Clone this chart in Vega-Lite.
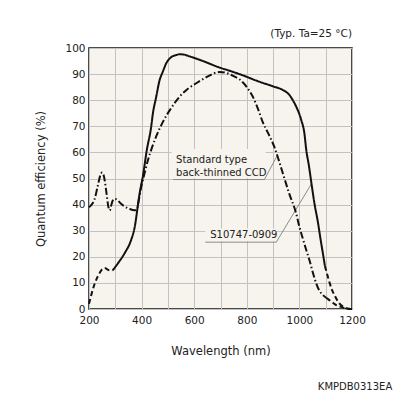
{
  "$schema": "https://vega.github.io/schema/vega-lite/v6.json",
  "width": 263,
  "height": 261,
  "autosize": "none",
  "padding": {"left": 89, "top": 48, "right": 44, "bottom": 87},
  "background": "white",
  "config": {
    "font": "DejaVu Sans",
    "view": {"fill": "#f6f4ed", "stroke": "#111111", "strokeWidth": 1.5},
    "axis": {
      "ticks": false,
      "domain": false,
      "grid": true,
      "gridColor": "#c2c2c2",
      "gridWidth": 1,
      "gridOpacity": 1,
      "labelColor": "#222222",
      "labelFont": "DejaVu Sans",
      "labelFontSize": 10.5,
      "labelOverlap": false,
      "labelFlush": false,
      "titleColor": "#222222",
      "titleFont": "DejaVu Sans",
      "titleFontSize": 11.5,
      "titleFontWeight": "normal"
    }
  },
  "title": {
    "text": "(Typ. Ta=25 °C)",
    "anchor": "end",
    "frame": "group",
    "fontSize": 10.5,
    "fontWeight": "normal",
    "font": "DejaVu Sans",
    "color": "#222222",
    "offset": 4
  },
  "datasets": {
    "curves": [
      {"seg": "S_a", "style": "dash", "wl": 200, "qe": 2},
      {"seg": "S_a", "style": "dash", "wl": 214, "qe": 7.3},
      {"seg": "S_a", "style": "dash", "wl": 227, "qe": 11.1},
      {"seg": "S_a", "style": "dash", "wl": 240, "qe": 13.7},
      {"seg": "S_a", "style": "dash", "wl": 252, "qe": 15.4},
      {"seg": "S_a", "style": "dash", "wl": 262, "qe": 15.6},
      {"seg": "S_a", "style": "dash", "wl": 275, "qe": 14.9},
      {"seg": "S_a", "style": "dash", "wl": 290, "qe": 14.8},
      {"seg": "S_b", "style": "solid", "wl": 290, "qe": 14.8},
      {"seg": "S_b", "style": "solid", "wl": 310, "qe": 17.5},
      {"seg": "S_b", "style": "solid", "wl": 335, "qe": 21.3},
      {"seg": "S_b", "style": "solid", "wl": 360, "qe": 26.4},
      {"seg": "S_b", "style": "solid", "wl": 373, "qe": 31},
      {"seg": "S_b", "style": "solid", "wl": 392, "qe": 44},
      {"seg": "S_b", "style": "solid", "wl": 405, "qe": 51},
      {"seg": "S_b", "style": "solid", "wl": 420, "qe": 61},
      {"seg": "S_b", "style": "solid", "wl": 436, "qe": 69.5},
      {"seg": "S_b", "style": "solid", "wl": 443, "qe": 75},
      {"seg": "S_b", "style": "solid", "wl": 455, "qe": 81},
      {"seg": "S_b", "style": "solid", "wl": 468, "qe": 87.5},
      {"seg": "S_b", "style": "solid", "wl": 481, "qe": 91},
      {"seg": "S_b", "style": "solid", "wl": 493, "qe": 94},
      {"seg": "S_b", "style": "solid", "wl": 510, "qe": 96.3},
      {"seg": "S_b", "style": "solid", "wl": 532, "qe": 97.3},
      {"seg": "S_b", "style": "solid", "wl": 544, "qe": 97.6},
      {"seg": "S_b", "style": "solid", "wl": 560, "qe": 97.5},
      {"seg": "S_b", "style": "solid", "wl": 582, "qe": 96.8},
      {"seg": "S_b", "style": "solid", "wl": 620, "qe": 95.5},
      {"seg": "S_b", "style": "solid", "wl": 697, "qe": 92.5},
      {"seg": "S_b", "style": "solid", "wl": 734, "qe": 91.3},
      {"seg": "S_b", "style": "solid", "wl": 772, "qe": 90},
      {"seg": "S_b", "style": "solid", "wl": 850, "qe": 87},
      {"seg": "S_b", "style": "solid", "wl": 900, "qe": 85.3},
      {"seg": "S_b", "style": "solid", "wl": 937, "qe": 83.9},
      {"seg": "S_b", "style": "solid", "wl": 962, "qe": 82},
      {"seg": "S_b", "style": "solid", "wl": 975, "qe": 80},
      {"seg": "S_b", "style": "solid", "wl": 988, "qe": 77.5},
      {"seg": "S_b", "style": "solid", "wl": 1007, "qe": 72.4},
      {"seg": "S_b", "style": "solid", "wl": 1019, "qe": 67.3},
      {"seg": "S_b", "style": "solid", "wl": 1026, "qe": 61},
      {"seg": "S_b", "style": "solid", "wl": 1036, "qe": 55},
      {"seg": "S_b", "style": "solid", "wl": 1046, "qe": 48},
      {"seg": "S_b", "style": "solid", "wl": 1058, "qe": 40},
      {"seg": "S_b", "style": "solid", "wl": 1070, "qe": 33.5},
      {"seg": "S_b", "style": "solid", "wl": 1080, "qe": 27},
      {"seg": "S_b", "style": "solid", "wl": 1089, "qe": 21.5},
      {"seg": "S_b", "style": "solid", "wl": 1097, "qe": 16.5},
      {"seg": "S_c", "style": "dash", "wl": 1097, "qe": 16.5},
      {"seg": "S_c", "style": "dash", "wl": 1105, "qe": 13.5},
      {"seg": "S_c", "style": "dash", "wl": 1115, "qe": 10},
      {"seg": "S_c", "style": "dash", "wl": 1125, "qe": 7},
      {"seg": "S_c", "style": "dash", "wl": 1133, "qe": 5.4},
      {"seg": "S_c", "style": "dash", "wl": 1143, "qe": 3.5},
      {"seg": "S_c", "style": "dash", "wl": 1152, "qe": 2.2},
      {"seg": "S_c", "style": "dash", "wl": 1165, "qe": 1},
      {"seg": "S_c", "style": "dash", "wl": 1178, "qe": 0.3},
      {"seg": "S_c", "style": "dash", "wl": 1200, "qe": 0},
      {"seg": "D_a", "style": "dashdot", "wl": 200, "qe": 39},
      {"seg": "D_a", "style": "dashdot", "wl": 210, "qe": 40},
      {"seg": "D_a", "style": "dashdot", "wl": 221, "qe": 42},
      {"seg": "D_a", "style": "dashdot", "wl": 233, "qe": 47},
      {"seg": "D_a", "style": "dashdot", "wl": 244, "qe": 51.5},
      {"seg": "D_a", "style": "dashdot", "wl": 250, "qe": 52.3},
      {"seg": "D_a", "style": "dashdot", "wl": 255, "qe": 51.5},
      {"seg": "D_a", "style": "dashdot", "wl": 261, "qe": 48.5},
      {"seg": "D_a", "style": "dashdot", "wl": 267, "qe": 44},
      {"seg": "D_a", "style": "dashdot", "wl": 274, "qe": 39},
      {"seg": "D_a", "style": "dashdot", "wl": 279, "qe": 37.8},
      {"seg": "D_a", "style": "dashdot", "wl": 284, "qe": 39.5},
      {"seg": "D_a", "style": "dashdot", "wl": 290, "qe": 41.5},
      {"seg": "D_a", "style": "dashdot", "wl": 297, "qe": 42.2},
      {"seg": "D_a", "style": "dashdot", "wl": 305, "qe": 42},
      {"seg": "D_a", "style": "dashdot", "wl": 320, "qe": 40.5},
      {"seg": "D_a", "style": "dashdot", "wl": 335, "qe": 39.3},
      {"seg": "D_a", "style": "dashdot", "wl": 355, "qe": 38.3},
      {"seg": "D_a", "style": "dashdot", "wl": 373, "qe": 37.8},
      {"seg": "D_a", "style": "dashdot", "wl": 382, "qe": 38.2},
      {"seg": "D_a", "style": "dashdot", "wl": 390, "qe": 42},
      {"seg": "D_a", "style": "dashdot", "wl": 398, "qe": 46.5},
      {"seg": "D_a", "style": "dashdot", "wl": 410, "qe": 51.5},
      {"seg": "D_a", "style": "dashdot", "wl": 424, "qe": 57},
      {"seg": "D_a", "style": "dashdot", "wl": 440, "qe": 62},
      {"seg": "D_a", "style": "dashdot", "wl": 455, "qe": 66},
      {"seg": "D_a", "style": "dashdot", "wl": 480, "qe": 71.5},
      {"seg": "D_a", "style": "dashdot", "wl": 506, "qe": 76},
      {"seg": "D_a", "style": "dashdot", "wl": 544, "qe": 81.3},
      {"seg": "D_a", "style": "dashdot", "wl": 575, "qe": 84.3},
      {"seg": "D_a", "style": "dashdot", "wl": 608, "qe": 86.5},
      {"seg": "D_a", "style": "dashdot", "wl": 650, "qe": 89},
      {"seg": "D_a", "style": "dashdot", "wl": 696, "qe": 90.8},
      {"seg": "D_a", "style": "dashdot", "wl": 720, "qe": 90.5},
      {"seg": "D_a", "style": "dashdot", "wl": 750, "qe": 89.2},
      {"seg": "D_a", "style": "dashdot", "wl": 772, "qe": 88},
      {"seg": "D_a", "style": "dashdot", "wl": 800, "qe": 85},
      {"seg": "D_a", "style": "dashdot", "wl": 823, "qe": 81.3},
      {"seg": "D_a", "style": "dashdot", "wl": 845, "qe": 76},
      {"seg": "D_a", "style": "dashdot", "wl": 861, "qe": 71.5},
      {"seg": "D_a", "style": "dashdot", "wl": 883, "qe": 67},
      {"seg": "D_a", "style": "dashdot", "wl": 905, "qe": 62},
      {"seg": "D_a", "style": "dashdot", "wl": 920, "qe": 57.5},
      {"seg": "D_a", "style": "dashdot", "wl": 937, "qe": 52},
      {"seg": "D_a", "style": "dashdot", "wl": 962, "qe": 44},
      {"seg": "D_a", "style": "dashdot", "wl": 988, "qe": 36.5},
      {"seg": "D_a", "style": "dashdot", "wl": 1000, "qe": 31.5},
      {"seg": "D_a", "style": "dashdot", "wl": 1013, "qe": 27},
      {"seg": "D_a", "style": "dashdot", "wl": 1026, "qe": 22.6},
      {"seg": "D_a", "style": "dashdot", "wl": 1038, "qe": 18.8},
      {"seg": "D_a", "style": "dashdot", "wl": 1051, "qe": 14},
      {"seg": "D_a", "style": "dashdot", "wl": 1064, "qe": 9.8},
      {"seg": "D_a", "style": "dashdot", "wl": 1076, "qe": 7},
      {"seg": "D_a", "style": "dashdot", "wl": 1089, "qe": 5.4},
      {"seg": "D_a", "style": "dashdot", "wl": 1102, "qe": 4.3},
      {"seg": "D_b", "style": "dash", "wl": 1102, "qe": 4.3},
      {"seg": "D_b", "style": "dash", "wl": 1114, "qe": 3.4},
      {"seg": "D_b", "style": "dash", "wl": 1127, "qe": 2.4},
      {"seg": "D_b", "style": "dash", "wl": 1140, "qe": 1.5},
      {"seg": "D_b", "style": "dash", "wl": 1155, "qe": 0.9},
      {"seg": "D_b", "style": "dash", "wl": 1170, "qe": 0.4},
      {"seg": "D_b", "style": "dash", "wl": 1185, "qe": 0.1},
      {"seg": "D_b", "style": "dash", "wl": 1200, "qe": 0}
    ],
    "boxes": [
      {"wl": 514, "wl2": 872, "qe": 50.2, "qe2": 61.3},
      {"wl": 642, "wl2": 912, "qe": 26, "qe2": 30.8}
    ],
    "leaders": [
      {"wl": 520, "wl2": 867, "qe": 49.6, "qe2": 49.6},
      {"wl": 867, "wl2": 914, "qe": 49.6, "qe2": 58.5},
      {"wl": 642, "wl2": 912, "qe": 25.6, "qe2": 25.6},
      {"wl": 912, "wl2": 1046, "qe": 25.6, "qe2": 48}
    ],
    "labels": [
      {"text": "Standard type", "wl": 531, "qe": 57.1},
      {"text": "back-thinned CCD", "wl": 531, "qe": 52.1},
      {"text": "S10747-0909", "wl": 661, "qe": 28.2}
    ],
    "code": [
      {"text": "KMPDB0313EA", "wl": 1353, "qe": -29.9}
    ]
  },
  "encoding": {
    "x": {"field": "wl", "type": "quantitative", "scale": {"domain": [200, 1200], "nice": false, "zero": false, "padding": 0},
          "axis": {"values": [200, 300, 400, 500, 600, 700, 800, 900, 1000, 1100, 1200], "format": "d",
                   "labelExpr": "datum.value % 200 == 0 ? datum.label : ''", "labelPadding": 6,
                   "title": "Wavelength (nm)", "titlePadding": 20}},
    "y": {"field": "qe", "type": "quantitative", "scale": {"domain": [0, 100], "nice": false, "zero": false, "padding": 0},
          "axis": {"values": [0, 10, 20, 30, 40, 50, 60, 70, 80, 90, 100], "labelPadding": 4,
                   "title": "Quantum efficiency (%)", "titlePadding": 18}}
  },
  "layer": [
    {
      "data": {"name": "boxes"},
      "mark": {"type": "rect", "fill": "#f6f4ed", "stroke": null},
      "encoding": {
        "x2": {"field": "wl2"},
        "y2": {"field": "qe2"}
      }
    },
    {
      "data": {"name": "leaders"},
      "mark": {"type": "rule", "color": "#8a8a8a", "strokeWidth": 1},
      "encoding": {
        "x2": {"field": "wl2"},
        "y2": {"field": "qe2"}
      }
    },
    {
      "data": {"name": "curves"},
      "mark": {"type": "line", "color": "#111111", "strokeWidth": 2, "interpolate": "monotone"},
      "encoding": {
        "detail": {"field": "seg"},
        "strokeDash": {"field": "style", "type": "nominal",
                       "scale": {"domain": ["solid", "dashdot", "dash"], "range": [[1, 0], [7, 2.5, 1.5, 2.5], [5, 3]]},
                       "legend": null}
      }
    },
    {
      "data": {"name": "labels"},
      "mark": {"type": "text", "align": "left", "baseline": "middle", "font": "DejaVu Sans", "fontSize": 10, "color": "#222222"},
      "encoding": {
        "text": {"field": "text"}
      }
    },
    {
      "data": {"name": "code"},
      "mark": {"type": "text", "align": "right", "baseline": "middle", "font": "DejaVu Sans", "fontSize": 10, "color": "#222222", "clip": false},
      "encoding": {
        "text": {"field": "text"}
      }
    }
  ]
}
